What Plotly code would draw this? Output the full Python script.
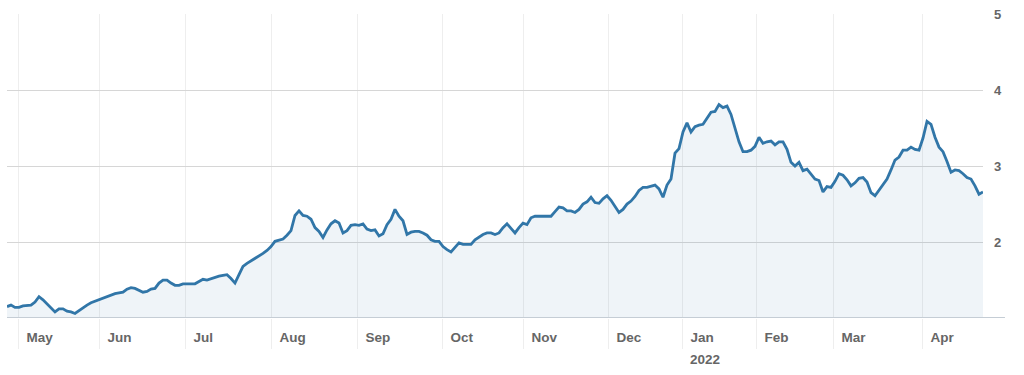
import plotly.graph_objects as go

# daily closing values (trading-day index 0..244)
values = [
    1.15, 1.17, 1.14, 1.14, 1.16, 1.17, 1.17, 1.21, 1.28, 1.24,
    1.19, 1.14, 1.08, 1.12, 1.12, 1.09, 1.08, 1.06, 1.10, 1.13,
    1.17, 1.20, 1.22, 1.25, 1.27, 1.29, 1.31, 1.32, 1.33, 1.34,
    1.38, 1.40, 1.39, 1.37, 1.34, 1.35, 1.38, 1.39, 1.46, 1.50,
    1.50, 1.46, 1.43, 1.43, 1.45, 1.45, 1.45, 1.45, 1.48, 1.51,
    1.50, 1.52, 1.54, 1.55, 1.56, 1.57, 1.52, 1.46, 1.57, 1.68,
    1.72, 1.75, 1.78, 1.81, 1.85, 1.89, 1.94, 2.01, 2.03, 2.04,
    2.09, 2.15, 2.35, 2.41, 2.35, 2.34, 2.30, 2.19, 2.14, 2.06,
    2.16, 2.24, 2.28, 2.25, 2.12, 2.15, 2.22, 2.23, 2.22, 2.24,
    2.17, 2.15, 2.16, 2.08, 2.11, 2.23, 2.30, 2.43, 2.34, 2.28,
    2.10, 2.13, 2.14, 2.14, 2.12, 2.09, 2.03, 2.01, 2.01, 1.94,
    1.90, 1.87, 1.93, 1.99, 1.97, 1.97, 1.97, 2.03, 2.07, 2.10,
    2.12, 2.12, 2.10, 2.12, 2.19, 2.24, 2.18, 2.12, 2.19, 2.25,
    2.23, 2.32, 2.34, 2.34, 2.34, 2.34, 2.34, 2.40, 2.46, 2.45,
    2.41, 2.41, 2.39, 2.43, 2.50, 2.53, 2.59, 2.52, 2.51, 2.57,
    2.61, 2.55, 2.47, 2.39, 2.43, 2.50, 2.54, 2.60, 2.68, 2.72,
    2.72, 2.74, 2.75, 2.70, 2.59, 2.75, 2.83, 3.17, 3.23, 3.45,
    3.57, 3.45, 3.52, 3.54, 3.55, 3.63, 3.71, 3.72, 3.81, 3.77,
    3.79, 3.68, 3.49, 3.32, 3.19, 3.19, 3.21, 3.26, 3.38, 3.30,
    3.32, 3.33, 3.28, 3.32, 3.32, 3.22, 3.05, 3.00, 3.05, 2.94,
    2.96, 2.89, 2.83, 2.81, 2.66, 2.73, 2.72, 2.80, 2.90, 2.88,
    2.82, 2.74, 2.78, 2.84, 2.85, 2.79, 2.65, 2.61, 2.68, 2.75,
    2.83, 2.95, 3.08, 3.12, 3.21, 3.21, 3.25, 3.22, 3.21, 3.37,
    3.59, 3.55, 3.38, 3.25, 3.19, 3.06, 2.92, 2.95, 2.94, 2.90,
    2.85, 2.83, 2.74, 2.63, 2.66,
]
days = list(range(len(values)))

# first trading day of each month (trading-day index) and labels
month_pos = [2.75, 23, 44.5, 66, 87.5, 108.75, 129, 150.25, 168.75, 187.25, 206.5, 228.75]
month_labels = ["May", "Jun", "Jul", "Aug", "Sep", "Oct", "Nov", "Dec", "Jan", "Feb", "Mar", "Apr"]
year_label = "2022"
year_pos = 168.75

y_ticks = [2, 3, 4, 5]

FONT = "Arial, 'Liberation Sans', sans-serif"
LABEL_COLOR = "#666666"

fig = go.Figure()
fig.add_trace(go.Scatter(
    x=days, y=values, mode="lines",
    line=dict(color="#3176a8", width=2.8),
    fill="tozeroy", fillcolor="rgba(49,118,168,0.08)",
    hoverinfo="skip",
))

fig.update_layout(
    width=1024, height=375,
    margin=dict(l=7, r=41, t=8, b=57),
    paper_bgcolor="white", plot_bgcolor="white",
    showlegend=False,
    xaxis=dict(
        range=[0, 244],
        tickmode="array", tickvals=month_pos, ticktext=month_labels,
        showgrid=True, gridcolor="#eeeeee", gridwidth=1,
        ticks="outside", ticklen=30, tickcolor="#eeeeee", tickwidth=1,
        ticklabelposition="outside right", ticklabelshift=8, ticklabelstandoff=7,
        tickfont=dict(family=FONT, size=13.5, color=LABEL_COLOR, weight="bold"),
        showline=False, zeroline=False,
    ),
    yaxis=dict(
        range=[1, 5.003], side="right",
        tickmode="array", tickvals=y_ticks,
        showgrid=True, gridcolor="#d6d6d6", gridwidth=1,
        ticks="", ticklabelstandoff=10,
        tickfont=dict(family=FONT, size=13, color=LABEL_COLOR, weight="bold"),
        showline=False, zeroline=False,
    ),
)

# bottom axis line extends slightly past the plot area
fig.add_shape(type="line", xref="paper", yref="y", x0=0, x1=1.0225, y0=1, y1=1,
              line=dict(color="#c5cdd5", width=2), layer="above")

fig.add_annotation(x=year_pos, y=0, xref="x", yref="paper", yanchor="top", xanchor="left",
                   xshift=6, yshift=-32, text=year_label, showarrow=False,
                   font=dict(family=FONT, size=13.5, color=LABEL_COLOR, weight="bold"))

fig.write_html("out.html")
